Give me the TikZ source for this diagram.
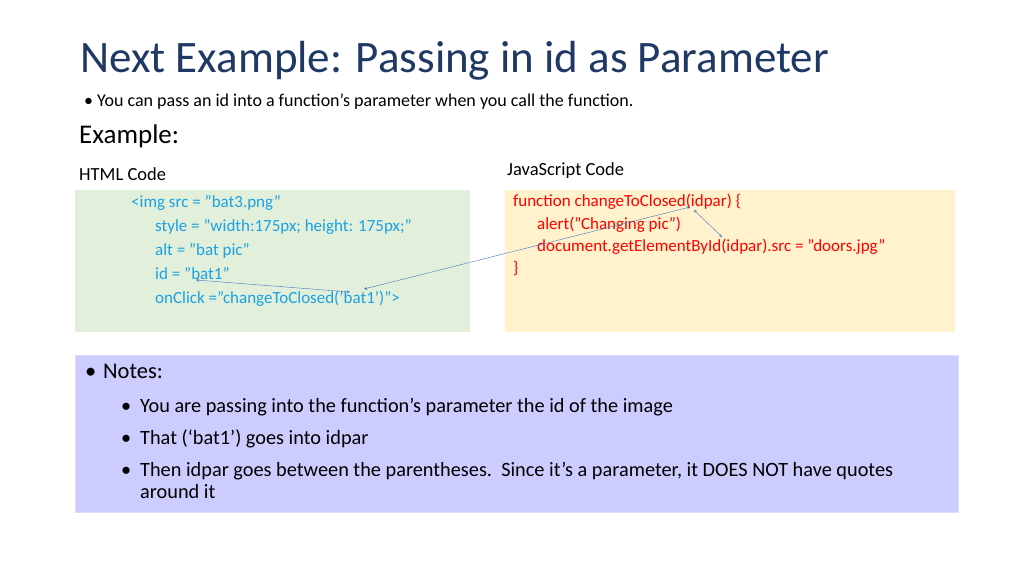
\documentclass[tikz,border=0pt]{standalone}
\usepackage{fontspec}
\setmainfont{Carlito}
\usetikzlibrary{positioning}
\definecolor{titleblue}{HTML}{1F3864}
\definecolor{htmlcol}{HTML}{1BA1E2}
\definecolor{jscol}{HTML}{FF0000}
\definecolor{greenbg}{HTML}{E2EFDA}
\definecolor{yellowbg}{HTML}{FFF2CC}
\definecolor{notebg}{HTML}{CCCCFF}
\definecolor{linkcol}{HTML}{4472C4}
\tikzset{
  txt/.style={anchor=base west, inner sep=0pt, font=\fontsize{17}{20}\selectfont},
  htmltxt/.style={txt, text=htmlcol},
  jstxt/.style={txt, text=jscol},
  notetxt/.style={txt, font=\fontsize{20.3}{24}\selectfont},
  link/.style={linkcol, <->, >=stealth, thin}
}
\begin{document}
\begin{tikzpicture}[x=1pt,y=-1pt]
\useasboundingbox (0,0) rectangle (1024,576);

% title and intro
\node[txt, text=titleblue, font=\fontsize{45}{50}\selectfont] (title) at (80,72) {Next Example: Passing in id as Parameter};
\node[txt, font=\fontsize{18}{20}\selectfont] (introdot) at (84,106) {\textbullet};
\node[txt, font=\fontsize{18}{20}\selectfont] (intro) at (97,106) {You can pass an id into a function’s parameter when you call the function.};
\node[txt, font=\fontsize{27}{30}\selectfont] (ex) at (79,143) {Example:};
\node[txt, font=\fontsize{18.5}{22}\selectfont] (htmlhd) at (79,180) {HTML Code};
\node[txt, font=\fontsize{18.5}{22}\selectfont] (jshd) at (507,175) {JavaScript Code};

% boxes
\fill[greenbg] (75,190) rectangle (470,332);
\fill[yellowbg] (505,190) rectangle (955,332);
\filldraw[fill=notebg, draw=notebg!70!white] (75,355) rectangle (958,512);

% html code
\node[htmltxt] (h1) at (131,207) {<img src = "bat3.png"};
\node[htmltxt] (h2) at (155,231) {style = "width:175px; height: 175px;"};
\node[htmltxt] (h3) at (155,255) {alt = "bat pic"};
\node[htmltxt] (h4) at (155,279) {id = "bat1"};
\node[htmltxt] (h5) at (155,303) {onClick ="changeToClosed('bat1')">};

% js code
\node[jstxt] (j1) at (513,206) {function changeToClosed(idpar) \{};
\node[jstxt] (j2) at (537,229) {alert("Changing pic")};
\node[jstxt] (j3) at (537,251) {document.getElementById(idpar).src = "doors.jpg"};
\node[jstxt] (j4) at (513,273) {\}};

% connectors
\coordinate (idend) at (196,280);
\coordinate (argend) at (350,292);
\coordinate (argstart) at (364,289);
\coordinate (parend) at (690,207);
\coordinate (partop) at (694,210);
\coordinate (parlow) at (722,237);
\draw[link] (idend) -- (argend);
\draw[link] (argstart) -- (parend);
\draw[link] (partop) -- (parlow);

% notes
\node[notetxt, font=\fontsize{22.5}{26}\selectfont] (n0dot) at (85,378) {\textbullet};
\node[notetxt, font=\fontsize{22.5}{26}\selectfont] (n0) at (103,378) {Notes:};
\foreach \y/\t [count=\i] in {412/{You are passing into the function’s parameter the id of the image},
                              444/{That (‘bat1’) goes into idpar},
                              476/{Then idpar goes between the parentheses.\ \ Since it’s a parameter, it DOES NOT have quotes}} {
  \node[notetxt] (dot\i) at (121,\y) {\textbullet};
  \node[notetxt] (n\i) at (140,\y) {\t};
}
\node[notetxt] (n4) at (140,498) {around it};
\end{tikzpicture}
\end{document}
